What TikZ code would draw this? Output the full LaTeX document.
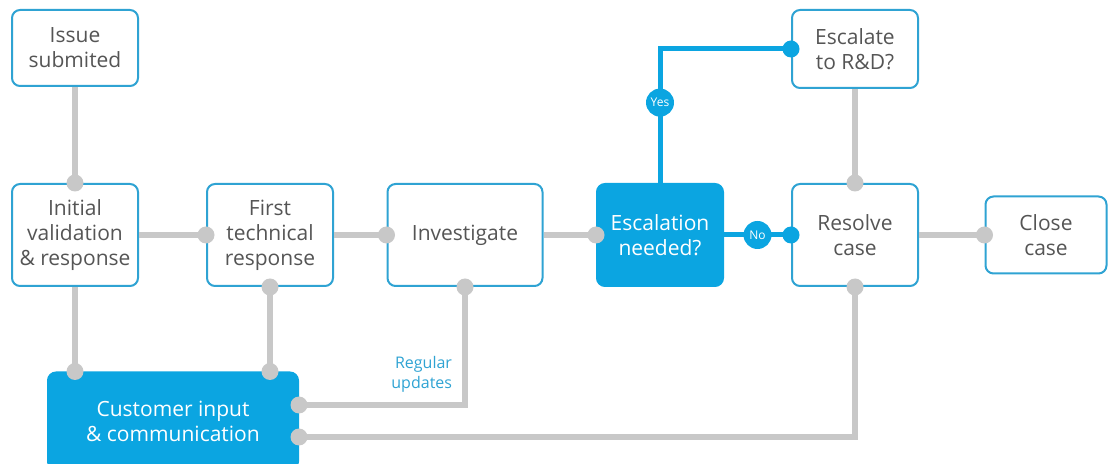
\documentclass[tikz,border=0pt]{standalone}
\usepackage{fontspec}
\setmainfont{Open Sans}
\usetikzlibrary{calc}

\definecolor{boxblue}{HTML}{2FA3D3}
\definecolor{fillblue}{HTML}{0BA5E1}
\definecolor{linegray}{HTML}{C8C8C8}
\definecolor{textgray}{HTML}{555555}

\begin{document}
\begin{tikzpicture}[x=0.5pt, y=-0.5pt,
		stepbox/.style={draw=boxblue, line width=1pt, rounded corners=4pt, fill=white, text=textgray, align=center, inner sep=0pt, minimum width=63pt, minimum height=51pt, font=\fontsize{10.5}{12.5}\selectfont},
		bluebox/.style={stepbox, fill=fillblue, draw=fillblue, text=white},
		gline/.style={draw=linegray, line width=3pt},
		bline/.style={draw=fillblue, line width=2.5pt},
		tag/.style={circle, fill=fillblue, text=white, inner sep=0pt, minimum size=14pt, font=\fontsize{6}{7}\selectfont},
		updtext/.style={text=boxblue, align=right, inner sep=5pt, font=\fontsize{8}{10}\selectfont}]
			\useasboundingbox (0,0) rectangle (1108,464);
			\node[stepbox, minimum height=38pt] (issue) at (75,48) {Issue\\submited};
			\node[stepbox] (init) at (75,235) {Initial\\validation\\\& response};
			\node[stepbox] (first) at (270,235) {First\\technical\\response};
			\node[stepbox, minimum width=77.5pt] (inv) at (465,235) {Investigate};
			\node[bluebox] (escq) at (660,235) {Escalation\\needed?};
			\node[stepbox] (resolve) at (855,235) {Resolve\\case};
			\node[stepbox, minimum width=60.5pt, minimum height=38.5pt] (close) at (1046,235) {Close\\case};
			\node[stepbox, minimum height=39pt] (escrd) at (855,49) {Escalate\\to R\&D?};
			\node[bluebox, minimum width=125pt, minimum height=48.5pt] (cust) at (173,421) {Customer input\\\& communication};
			\coordinate (ci) at (init.south |- cust.north);
			\coordinate (cf) at (first.south |- cust.north);
			\coordinate (cu) at ($(cust.east)+(0,-16)$);
			\coordinate (cr) at ($(cust.east)+(0,16)$);
			% main flow
			\draw[gline] (issue) -- (init);
			\draw[gline] (init) -- (first);
			\draw[gline] (first) -- (inv);
			\draw[gline] (inv) -- (escq);
			\draw[gline] (escrd) -- (resolve);
			\draw[gline] (resolve) -- (close);
			% customer links
			\draw[gline] (init.south) -- (ci);
			\draw[gline] (first.south) -- (cf);
			\draw[gline] (inv.south) |- node[updtext, above left] {Regular\\updates} (cu);
			\draw[gline] (resolve.south) |- (cr);
			% decision
			\draw[bline] (escq) -- node[tag] {No} (resolve);
			\draw[bline] (escq.north) |- node[tag, pos=0.3] {Yes} (escrd.west);
			\foreach \p in {init.north, first.west, inv.west, escq.west, resolve.north, close.west, first.south, inv.south, resolve.south, ci, cf, cu, cr}
				\fill[linegray] (\p) circle (4.25pt);
			\foreach \p in {resolve.west, escrd.west}
				\fill[fillblue] (\p) circle (4.25pt);
		\end{tikzpicture}
\end{document}
